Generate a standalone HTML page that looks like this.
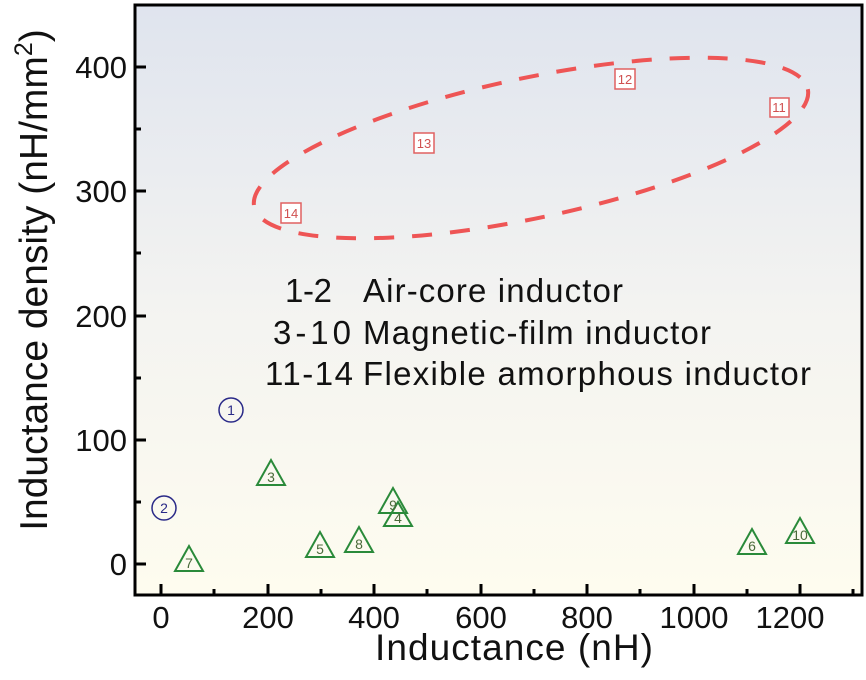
<!DOCTYPE html>
<html><head><meta charset="utf-8"><style>
html,body{margin:0;padding:0;background:#fff}
svg{display:block}
text{font-family:"Liberation Sans",sans-serif;fill:#111}
</style></head><body>
<svg width="866" height="680" viewBox="0 0 866 680">
<defs>
<linearGradient id="bg" x1="0" y1="0" x2="0" y2="1">
<stop offset="0" stop-color="#dfe4ee"/>
<stop offset="0.5" stop-color="#f3f3f1"/>
<stop offset="1" stop-color="#fefcef"/>
</linearGradient>
</defs>
<rect x="135" y="5" width="727" height="590" fill="url(#bg)"/>
<rect x="135" y="5" width="727" height="590" fill="none" stroke="#000" stroke-width="3"/>
<g stroke="#000" stroke-width="3">
<line x1="135" y1="564" x2="146" y2="564"/><line x1="135" y1="440" x2="146" y2="440"/>
<line x1="135" y1="316" x2="146" y2="316"/><line x1="135" y1="191" x2="146" y2="191"/>
<line x1="135" y1="67" x2="146" y2="67"/>
<line x1="135" y1="502" x2="141" y2="502"/><line x1="135" y1="378" x2="141" y2="378"/>
<line x1="135" y1="253" x2="141" y2="253"/><line x1="135" y1="129" x2="141" y2="129"/>
<line x1="161" y1="595" x2="161" y2="584"/><line x1="268" y1="595" x2="268" y2="584"/>
<line x1="374" y1="595" x2="374" y2="584"/><line x1="481" y1="595" x2="481" y2="584"/>
<line x1="587" y1="595" x2="587" y2="584"/><line x1="694" y1="595" x2="694" y2="584"/>
<line x1="800" y1="595" x2="800" y2="584"/>
<line x1="214" y1="595" x2="214" y2="589"/><line x1="321" y1="595" x2="321" y2="589"/>
<line x1="427" y1="595" x2="427" y2="589"/><line x1="534" y1="595" x2="534" y2="589"/>
<line x1="640" y1="595" x2="640" y2="589"/><line x1="747" y1="595" x2="747" y2="589"/>
<line x1="853" y1="595" x2="853" y2="589"/>
</g>
<g font-size="31" text-anchor="end">
<text x="127" y="575">0</text><text x="127" y="451">100</text><text x="127" y="327">200</text>
<text x="127" y="202">300</text><text x="127" y="78">400</text>
</g>
<g font-size="31" text-anchor="middle">
<text x="161" y="628">0</text><text x="268" y="628">200</text><text x="374" y="628">400</text>
<text x="481" y="628">600</text><text x="587" y="628">800</text><text x="694" y="628">1000</text>
<text x="790" y="628">1200</text>
</g>
<text x="375" y="660" font-size="37" textLength="278">Inductance (nH)</text>
<text transform="translate(47,280) rotate(-90)" font-size="39" text-anchor="middle">Inductance density (nH/mm<tspan font-size="25" dy="-15">2</tspan><tspan dy="15">)</tspan></text>
<g font-size="33">
<text x="285" y="302" textLength="47">1-2</text><text x="363" y="302" textLength="260">Air-core inductor</text>
<text x="273" y="344" textLength="78">3-10</text><text x="363" y="344" textLength="348">Magnetic-film inductor</text>
<text x="265" y="385" textLength="88">11-14</text><text x="363" y="385" textLength="448">Flexible amorphous inductor</text>
</g>
<ellipse cx="531" cy="148" rx="283" ry="70" transform="rotate(-12 531 148)" fill="none" stroke="#ee5555" stroke-width="4" stroke-dasharray="20 18"/>
<g fill="#fff" stroke="#e06060" stroke-width="1.5">
<rect x="770" y="98" width="19" height="19"/><rect x="615" y="69" width="20" height="20"/>
<rect x="414" y="133" width="20" height="20"/><rect x="281" y="203" width="20" height="20"/>
</g>
<g font-size="13" text-anchor="middle">
<text x="779" y="112" style="fill:#d05050">11</text><text x="625" y="84" style="fill:#d05050">12</text>
<text x="424" y="148" style="fill:#d05050">13</text><text x="291" y="218" style="fill:#d05050">14</text>
</g>
<g fill="none" stroke="#2a2a88" stroke-width="1.5">
<circle cx="231" cy="410" r="12"/><circle cx="164" cy="508" r="12"/>
</g>
<g font-size="14" text-anchor="middle">
<text x="231" y="415" style="fill:#2a2a88">1</text><text x="164" y="513" style="fill:#2a2a88">2</text>
</g>
<g fill="none" stroke="#2a8a3a" stroke-width="2">
<polygon points="271,460 257,485 285,485"/>
<polygon points="398,502 384,526 412,526"/>
<polygon points="320,532 306,557 334,557"/>
<polygon points="189,546 175,571 203,571"/>
<polygon points="359,527 345,552 373,552"/>
<polygon points="393,488 379,513 407,513"/>
<polygon points="752,529 738,554 766,554"/>
<polygon points="800,518 786,543 814,543"/>
</g>
<g font-size="14" text-anchor="middle">
<text x="271" y="482" style="fill:#4a6a3a">3</text><text x="398" y="523" style="fill:#4a6a3a">4</text>
<text x="320" y="554" style="fill:#4a6a3a">5</text><text x="189" y="568" style="fill:#4a6a3a">7</text>
<text x="359" y="549" style="fill:#4a6a3a">8</text><text x="393" y="510" style="fill:#4a6a3a">9</text>
<text x="752" y="551" style="fill:#4a6a3a">6</text><text x="800" y="540" style="fill:#4a6a3a">10</text>
</g>
</svg>
</body></html>
